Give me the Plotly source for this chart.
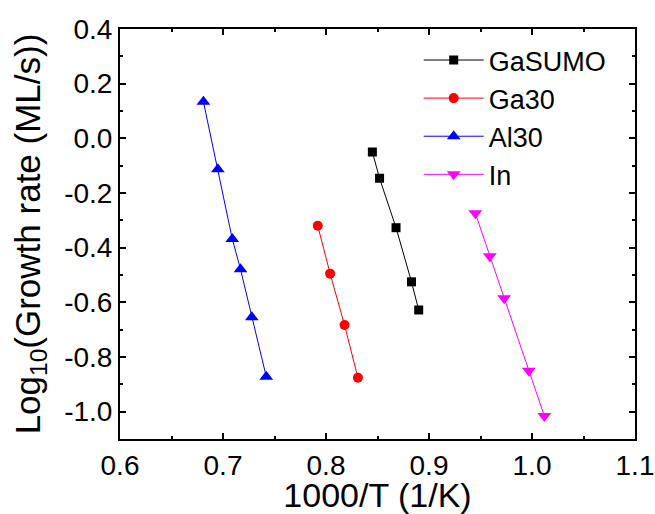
import plotly.graph_objects as go

# Data
al30_x = [0.681, 0.695, 0.709, 0.717, 0.728, 0.742]
al30_y = [0.134, -0.113, -0.368, -0.479, -0.655, -0.872]

ga30_x = [0.792, 0.804, 0.818, 0.831]
ga30_y = [-0.320, -0.495, -0.683, -0.876]

gasumo_x = [0.845, 0.852, 0.868, 0.883, 0.890]
gasumo_y = [-0.050, -0.146, -0.327, -0.525, -0.628]

in_x = [0.945, 0.959, 0.973, 0.997, 1.012]
in_y = [-0.274, -0.431, -0.585, -0.850, -1.016]

x_tickvals = [0.6, 0.7, 0.8, 0.9, 1.0, 1.1]
x_ticktext = ["0.6", "0.7", "0.8", "0.9", "1.0", "1.1"]
y_tickvals = [0.4, 0.2, 0.0, -0.2, -0.4, -0.6, -0.8, -1.0]
y_ticktext = ["0.4", "0.2", "0.0", "-0.2", "-0.4", "-0.6", "-0.8", "-1.0"]

FONT = "Liberation Sans, Arial, sans-serif"

fig = go.Figure()
series = [
    ("GaSUMO", gasumo_x, gasumo_y, "#000000", "square", 9),
    ("Ga30", ga30_x, ga30_y, "#ff0000", "circle", 10),
    ("Al30", al30_x, al30_y, "#0000ff", "triangle-up", 12),
    ("In", in_x, in_y, "#ff00ff", "triangle-down", 12),
]
for name, xs, ys, col, sym, sz in series:
    fig.add_trace(go.Scatter(
        x=xs, y=ys, name=name, mode="lines+markers",
        line=dict(color=col, width=1),
        marker=dict(color=col, symbol=sym, size=sz),
    ))

axis_common = dict(
    showline=True, linecolor="black", linewidth=2, mirror="ticks",
    ticks="inside", ticklen=6, tickwidth=2, tickcolor="black",
    showgrid=False, zeroline=False, automargin=False,
    tickfont=dict(family=FONT, size=28, color="black"),
)

fig.update_xaxes(
    range=[0.6, 1.1], tickvals=x_tickvals, ticktext=x_ticktext,
    ticklabelstandoff=0,
    minor=dict(ticks="inside", ticklen=3, tickwidth=2, tickcolor="black", dtick=0.05, tick0=0.6),
    title=dict(text="1000/T (1/K)", font=dict(family=FONT, size=34, color="black"), standoff=8),
    **axis_common,
)
fig.update_yaxes(
    range=[-1.1, 0.4], tickvals=y_tickvals, ticktext=y_ticktext,
    minor=dict(ticks="inside", ticklen=3, tickwidth=2, tickcolor="black", dtick=0.1, tick0=0.0),
    title=dict(text="Log<sub>10</sub>(Growth rate (ML/s))", font=dict(family=FONT, size=35, color="black"), standoff=13),
    **axis_common,
)

fig.update_layout(
    width=655, height=514,
    margin=dict(l=120, r=20, t=29, b=75),
    paper_bgcolor="white", plot_bgcolor="white",
    showlegend=True,
    legend=dict(
        x=0.58, y=0.983, xanchor="left", yanchor="top",
        font=dict(family=FONT, size=27, color="black"),
        bgcolor="rgba(0,0,0,0)", itemwidth=60, tracegroupgap=0,
    ),
)

fig.write_html("out.html")
